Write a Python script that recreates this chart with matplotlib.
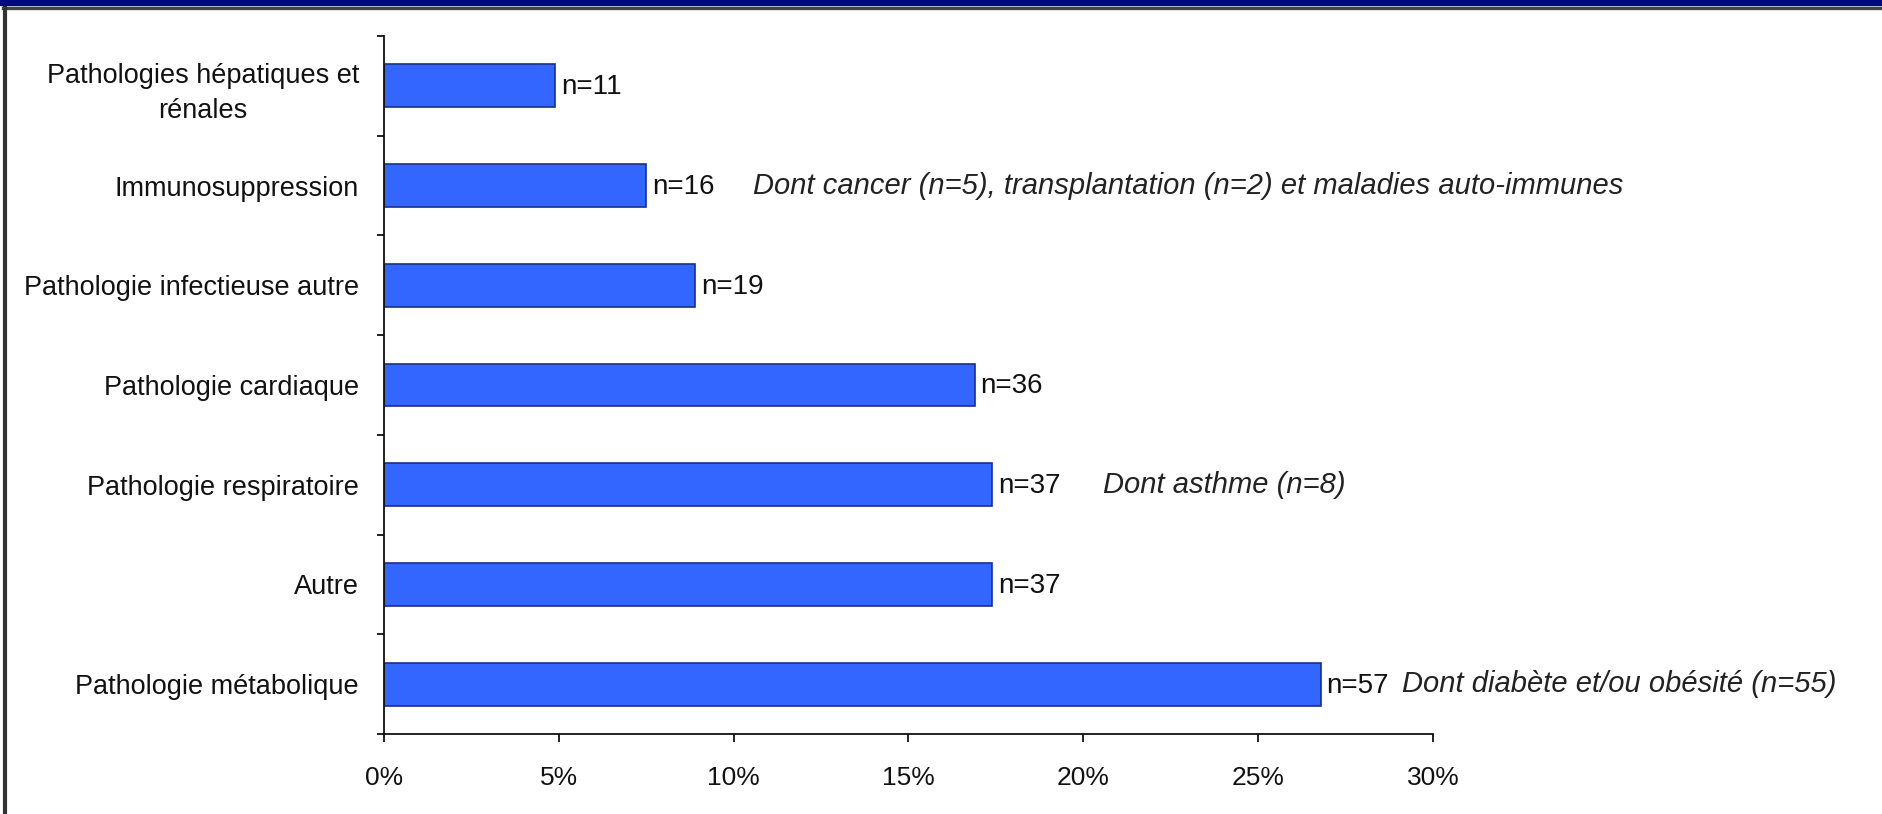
import numpy as np
import matplotlib
matplotlib.use("Agg")
import matplotlib.pyplot as plt
from matplotlib.lines import Line2D
from matplotlib.patches import Rectangle

# categories, top to bottom
categories = ["Pathologies hépatiques et\nrénales",
              "Immunosuppression",
              "Pathologie infectieuse autre",
              "Pathologie cardiaque",
              "Pathologie respiratoire",
              "Autre",
              "Pathologie métabolique"]
percents = [4.9, 7.5, 8.9, 16.9, 17.4, 17.4, 26.8]
counts = [11, 16, 19, 36, 37, 37, 57]
notes = {1: (10.55, "Dont cancer (n=5), transplantation (n=2) et maladies auto-immunes"),
         4: (20.55, "Dont asthme (n=8)"),
         6: (29.1, "Dont diabète et/ou obésité (n=55)")}
xticks = [0, 5, 10, 15, 20, 25, 30]

plt.rcParams['font.family'] = ['Liberation Sans', 'DejaVu Sans']

W, H = 1883, 814
fig = plt.figure(figsize=(W / 100, H / 100), dpi=100)
ax = fig.add_axes([384 / W, 1 - 734 / H, (1433 - 384) / W, (734 - 36) / H])

ypos = np.arange(len(categories))
ax.barh(ypos, percents, height=0.43, color="#3366ff", edgecolor="#1a2f8a", linewidth=1.2)

for i, (p, n) in enumerate(zip(percents, counts)):
    ax.annotate("n=%d" % n, (p, i), xytext=(4, -1), textcoords="offset points",
                va="center", ha="left", fontsize=20, color="#111111")

for i, (x, txt) in notes.items():
    ax.text(x, i, txt, va="center", ha="left", fontsize=21, style="italic", color="#222222")

ax.set_xlim(0, 30)
ax.set_ylim(len(categories) - 0.5, -0.5)
ax.set_xticks(xticks)
ax.set_xticklabels(["%d%%" % t for t in xticks], fontsize=19, color="#111111")
ax.set_yticks(ypos)
ax.set_yticklabels(categories, fontsize=19.5, color="#111111",
                   multialignment="center", linespacing=1.45)
ax.set_yticks(np.arange(-0.5, len(categories)), minor=True)

ax.tick_params(axis="y", which="major", length=0, pad=18)
ax.tick_params(axis="y", which="minor", length=5, width=1.3, direction="out", color="#111111")
ax.tick_params(axis="x", which="major", length=6, width=1.3, direction="out", pad=17, color="#111111")

for s in ["top", "right"]:
    ax.spines[s].set_visible(False)
for s in ["left", "bottom"]:
    ax.spines[s].set_linewidth(1.3)
    ax.spines[s].set_color("#111111")

# slide frame: blue band on top, grey rule and left border
fig.patches.append(Rectangle((0, 1 - 4.5 / H), 1, 4.5 / H, transform=fig.transFigure,
                             color="#000a80", zorder=5))
fig.lines.append(Line2D([3 / W, 1], [1 - 7.5 / H, 1 - 7.5 / H], transform=fig.transFigure,
                        color="#444444", linewidth=2.4, zorder=5))
fig.lines.append(Line2D([5 / W, 5 / W], [0, 1 - 6 / H], transform=fig.transFigure,
                        color="#333333", linewidth=3.0, zorder=5))

fig.savefig("out.png", dpi=100)
